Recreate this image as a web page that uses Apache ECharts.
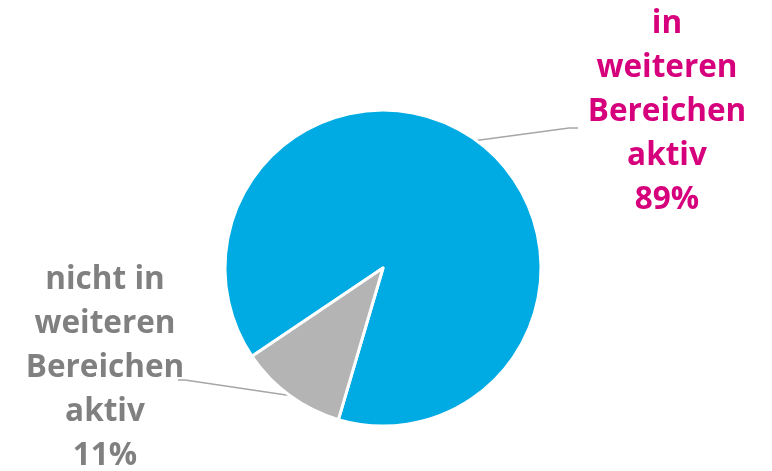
<!DOCTYPE html>
<html>
<head>
<meta charset="utf-8">
<style>
  html, body { margin: 0; padding: 0; background: #ffffff; }
  #chart { width: 772px; height: 471px; }
</style>
<script src="https://cdn.jsdelivr.net/npm/echarts@6/dist/echarts.min.js"></script>
</head>
<body>
<div id="chart"></div>
<script>
// Share of members active in further areas
const categories = ['in\nweiteren\nBereichen\naktiv', 'nicht in\nweiteren\nBereichen\naktiv'];
const shares = [89, 11];
const sliceColors = ['#00aae2', '#b4b4b4'];
const labelColors = ['#d6007c', '#808080'];

// where each label block sits and how its leader line bends
const labelSpots = [
  { x: 667, y: 112, bend: [569, 128], end: [578, 128] },
  { x: 105, y: 368, bend: [185, 380], end: [178, 380] }
];

const chart = echarts.init(document.getElementById('chart'), null, { renderer: 'canvas' });

chart.setOption({
  animation: false,
  series: [{
    type: 'pie',
    center: [383, 268],
    radius: 158,
    startAngle: 214,
    clockwise: true,
    silent: true,
    itemStyle: { borderColor: '#ffffff', borderWidth: 3 },
    label: {
      show: true,
      position: 'outside',
      fontFamily: 'Open Sans',
      fontWeight: 'bold',
      fontSize: 31.5,
      lineHeight: 44,
      align: 'center',
      formatter: p => p.name + '\n' + p.value + '%'
    },
    labelLine: {
      show: true,
      lineStyle: { color: '#a6a6a6', width: 1.5 }
    },
    labelLayout: function (params) {
      const spot = labelSpots[params.dataIndex];
      const start = params.labelLinePoints[0];
      return {
        x: spot.x,
        y: spot.y,
        align: 'center',
        verticalAlign: 'middle',
        labelLinePoints: [start, spot.bend, spot.end]
      };
    },
    data: shares.map((v, i) => ({
      value: v,
      name: categories[i],
      itemStyle: { color: sliceColors[i] },
      label: { color: labelColors[i] }
    }))
  }]
});
</script>
</body>
</html>
